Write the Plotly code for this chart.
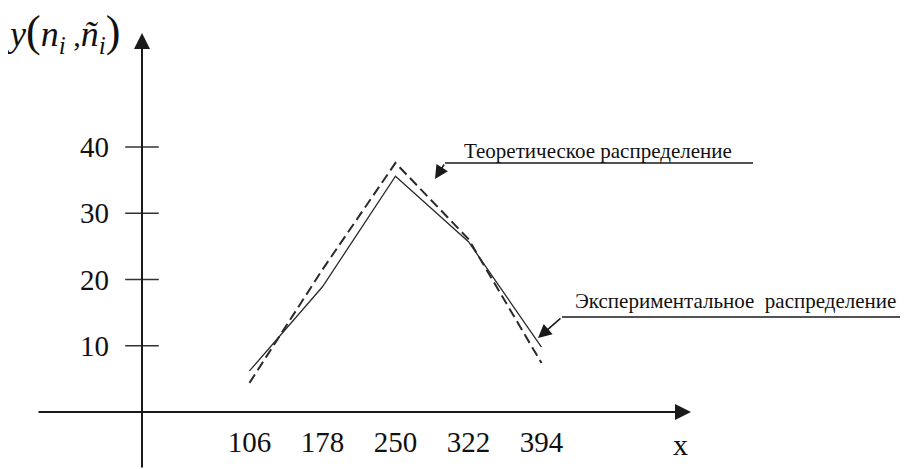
import plotly.graph_objects as go

# ---- data ----
x_vals = [106, 178, 250, 322, 394]
x_tick_labels = ["106", "178", "250", "322", "394"]
experimental = [6.2, 18.9, 35.6, 25.7, 9.8]   # solid line
theoretical = [4.4, 21.5, 37.6, 26.1, 7.4]    # dashed line
y_ticks = [10, 20, 30, 40]
y_tick_labels = ["10", "20", "30", "40"]

label_theor = "Теоретическое распределение"
label_exp = "Экспериментальное\u00a0\u00a0распределение"

# ---- geometry (page body has an 8px margin) ----
OFF = 8
W, H = 913 - OFF, 469 - OFF
X0_PX, SX = 142 - OFF, 1.0139      # pixel of x=0, px per unit
Y0_PX, SY = 412 - OFF, 6.625       # pixel of y=0, px per unit
X_RANGE = [-X0_PX / SX, (W - X0_PX) / SX]
Y_RANGE = [-(H - Y0_PX) / SY, Y0_PX / SY]
INK = "#1a1a1a"
SERIF = "Liberation Serif, Times New Roman, serif"


def px(p):
    return (p - OFF) / W


def py(p):
    return 1 - (p - OFF) / H


x_axis_pos = (0 - Y_RANGE[0]) / (Y_RANGE[1] - Y_RANGE[0])
y_axis_pos = (0 - X_RANGE[0]) / (X_RANGE[1] - X_RANGE[0])

fig = go.Figure()

fig.add_trace(go.Scatter(
    x=x_vals, y=experimental, mode="lines",
    line=dict(color="#2a2a2a", width=1.3), showlegend=False, hoverinfo="skip"))
fig.add_trace(go.Scatter(
    x=x_vals, y=theoretical, mode="lines",
    line=dict(color="#2a2a2a", width=2, dash="10px,5px"), showlegend=False,
    hoverinfo="skip"))
# tick marks crossing the y axis
fig.add_trace(go.Scatter(
    x=[0] * len(y_ticks), y=y_ticks, mode="markers",
    marker=dict(symbol="line-ew", size=24, line=dict(color="#333", width=1.6)),
    showlegend=False, hoverinfo="skip"))

fig.update_layout(
    width=W, height=H,
    margin=dict(l=0, r=0, t=0, b=0),
    paper_bgcolor="white", plot_bgcolor="white",
    xaxis=dict(range=X_RANGE, showgrid=False, zeroline=False, showline=False,
               tickmode="array", tickvals=x_vals, ticktext=x_tick_labels,
               ticks="", anchor="free", position=x_axis_pos, automargin=False,
               ticklabelstandoff=10,
               tickfont=dict(family=SERIF, size=29, color="#111")),
    yaxis=dict(range=Y_RANGE, showgrid=False, zeroline=False, showline=False,
               tickmode="array", tickvals=y_ticks, ticktext=y_tick_labels,
               ticks="", anchor="free", position=y_axis_pos, automargin=False,
               ticklabelstandoff=33,
               tickfont=dict(family=SERIF, size=29, color="#111")),
)

# axes with arrows
x_tip = (691 - OFF - X0_PX) / SX
x_tail = (37 - OFF - X0_PX) / SX
y_tip = (Y0_PX - (33 - OFF)) / SY
fig.add_annotation(x=x_tip, y=0, ax=x_tail, ay=0, xref="x", yref="y",
                   axref="x", ayref="y", text="", showarrow=True,
                   arrowhead=2, arrowsize=1.6, arrowwidth=2, arrowcolor=INK)
fig.add_annotation(x=0, y=y_tip, ax=0, ay=Y_RANGE[0], xref="x", yref="y",
                   axref="x", ayref="y", text="", showarrow=True,
                   arrowhead=2, arrowsize=1.6, arrowwidth=2, arrowcolor=INK)

# pointer lines
fig.add_shape(type="line", xref="paper", yref="paper",
              x0=px(445), y0=py(163), x1=px(753), y1=py(163),
              line=dict(color=INK, width=1.5))
fig.add_annotation(xref="paper", yref="paper", x=px(435), y=py(179),
                   ax=10, ay=-16, text="", showarrow=True, arrowhead=2,
                   arrowsize=1.8, arrowwidth=1.5, arrowcolor=INK)
fig.add_shape(type="line", xref="paper", yref="paper",
              x0=px(562), y0=py(317), x1=px(900), y1=py(317),
              line=dict(color=INK, width=1.5))
fig.add_annotation(xref="paper", yref="paper", x=px(538), y=py(338),
                   ax=24, ay=-21, text="", showarrow=True, arrowhead=2,
                   arrowsize=1.8, arrowwidth=1.5, arrowcolor=INK)

# texts
common = dict(xref="paper", yref="paper", showarrow=False,
              xanchor="center", yanchor="middle")
fig.add_annotation(x=px(598), y=py(151), text=label_theor,
                   font=dict(family=SERIF, size=21, color="#111"), **common)
fig.add_annotation(x=px(735), y=py(301), text=label_exp,
                   font=dict(family=SERIF, size=21, color="#111"), **common)
fig.add_annotation(x=px(680), y=py(444), text="x",
                   font=dict(family=SERIF, size=30, color="#111"), **common)
fig.add_annotation(
    x=px(63), y=py(33),
    text=("<i>y</i><span style='font-size:44px'>(</span><i>n</i>"
          "<sub><i>i</i></sub><span style='font-size:30px'> ,</span><i>ñ</i>"
          "<sub><i>i</i></sub><span style='font-size:44px'>)</span>"),
    font=dict(family=SERIF, size=36, color="#111"), **common)

fig.write_html("out.html")
